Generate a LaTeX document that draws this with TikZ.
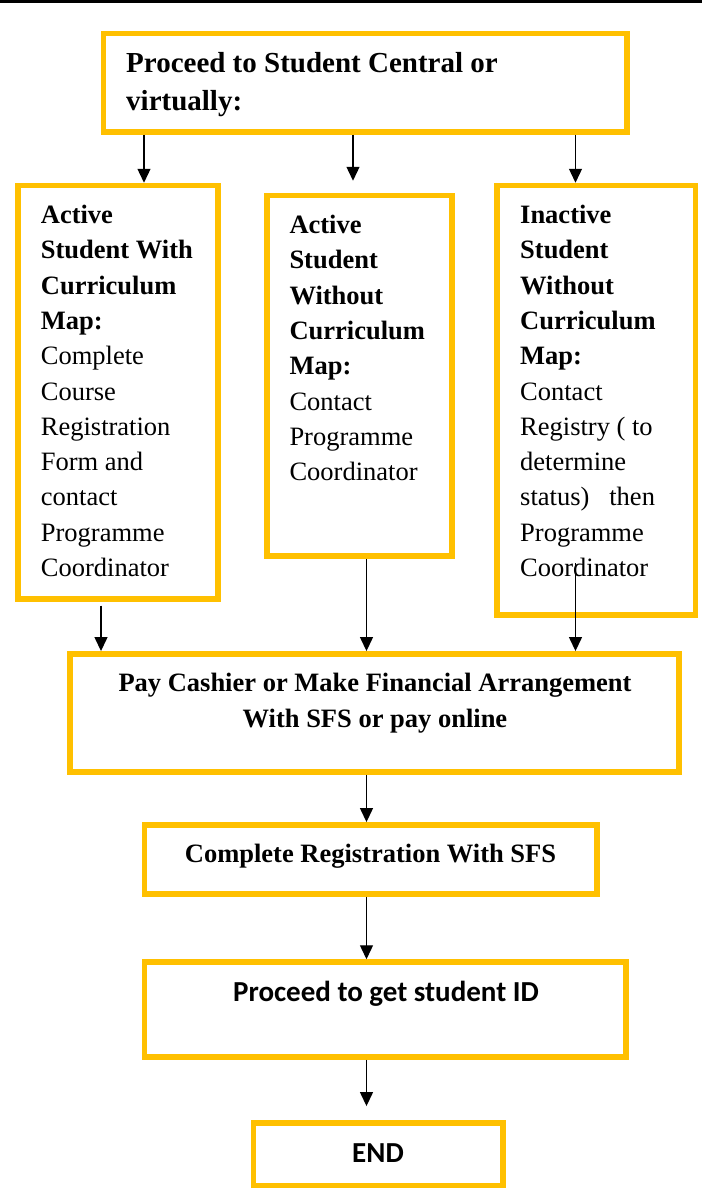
\documentclass[tikz,border=0pt]{standalone}
\usepackage{fontspec}
\setmainfont{Liberation Serif}
\newfontfamily\calibri{Carlito}
\usetikzlibrary{arrows.meta,positioning}
\definecolor{gold}{RGB}{255,192,0}

\begin{document}
\begin{tikzpicture}[x=1pt,y=1pt,
  box/.style={draw=gold,line width=5.5pt,inner sep=0pt},
  txt/.style={inner sep=0pt,align=left,font=\fontsize{26.5}{35.3}\selectfont},
  arr/.style={line width=1.3pt,-{Triangle[length=14pt,width=13pt]}}]
\useasboundingbox (0,0) rectangle (702,-1195);
\fill (0,0) rectangle (702,-2.7);

% frames
\node[box,minimum width=523.5pt,minimum height=98.5pt] (start) at (365.25,-82.75) {};
\node[box,minimum width=200pt,minimum height=413.3pt] (withmap) at (118,-392.15) {};
\node[box,minimum width=185.4pt,minimum height=360.5pt] (nomap) at (359.5,-375.75) {};
\node[box,minimum width=198.5pt,minimum height=429.5pt] (inactive) at (596.25,-400.25) {};
\node[box,minimum width=609pt,minimum height=118.4pt] (pay) at (374.5,-713) {};
\node[box,minimum width=452.5pt,minimum height=69.4pt] (complete) at (370.75,-859.5) {};
\node[box,minimum width=481.5pt,minimum height=95pt] (getid) at (385.25,-1009.5) {};
\node[box,minimum width=249.5pt,minimum height=62.7pt] (theend) at (378.25,-1154.15) {};

% texts
\node[txt,anchor=north west,font=\fontsize{29}{38}\selectfont\bfseries] (starttext) at (126,-46.1)
  {\strut Proceed to Student Central or\\virtually:};
\node[txt,anchor=north west] (withmaptext) at (40.7,-198.6)
  {\strut\textbf{Active}\\\textbf{Student With}\\\textbf{Curriculum}\\\textbf{Map:}\\
   Complete\\Course\\Registration\\Form and\\contact\\Programme\\Coordinator};
\node[txt,anchor=north west] (nomaptext) at (289.3,-208.6)
  {\strut\textbf{Active}\\\textbf{Student}\\\textbf{Without}\\\textbf{Curriculum}\\\textbf{Map:}\\
   Contact\\Programme\\Coordinator};
\node[txt,anchor=north west] (inactivetext) at (520,-198.6)
  {\strut\textbf{Inactive}\\\textbf{Student}\\\textbf{Without}\\\textbf{Curriculum}\\\textbf{Map:}\\
   Contact\\Registry ( to\\determine\\status)\hspace{20pt}then\\Programme\\Coordinator};
\node[txt,anchor=north,align=center,font=\fontsize{26.5}{35.3}\selectfont\bfseries] (paytext) at (375,-667)
  {\strut Pay Cashier or Make Financial Arrangement\\With SFS or pay online};
\node[txt,anchor=north,font=\fontsize{26.5}{35.3}\selectfont\bfseries] (completetext) at (370.5,-837.3)
  {\strut Complete Registration With SFS};
\node[txt,anchor=north,font=\fontsize{29}{35}\selectfont\calibri\bfseries] (getidtext) at (386,-977.2)
  {\strut Proceed to get student ID};
\node[txt,anchor=north,font=\fontsize{29}{35}\selectfont\calibri\bfseries] (endtext) at (378,-1138.2)
  {\strut END};

% arrow columns
\coordinate (c0) at (144,0);
\coordinate (c1) at (353,0);
\coordinate (c2) at (575.5,0);
\coordinate (c3) at (101,0);
\coordinate (c4) at (366.5,0);
\coordinate (c5) at (575.5,-563);

\draw[arr] (start.south -| c0) -- (withmap.north -| c0);
\draw[arr,shorten >=12pt] (start.south -| c1) -- (nomap.north -| c1);
\draw[arr] (start.south -| c2) -- (inactive.north -| c2);
\draw[arr,shorten <=4pt] (withmap.south -| c3) -- (pay.north -| c3);
\draw[arr] (nomap.south -| c4) -- (pay.north -| c4);
\draw[arr] (c5) -- (pay.north -| c5);
\draw[arr] (pay.south -| c4) -- (complete.north -| c4);
\draw[arr] (complete.south -| c4) -- (getid.north -| c4);
\draw[arr,shorten >=14pt] (getid.south -| c4) -- (theend.north -| c4);
\end{tikzpicture}
\end{document}
